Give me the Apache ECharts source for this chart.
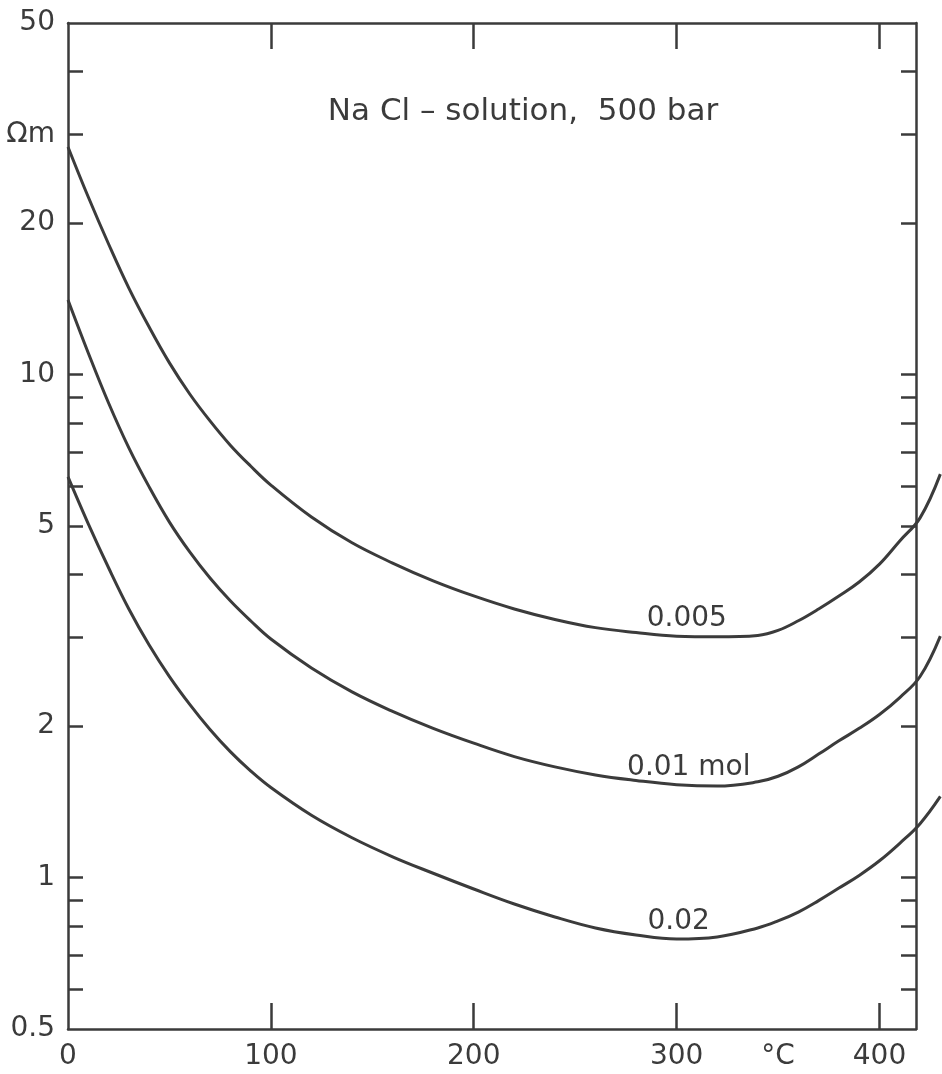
<!DOCTYPE html>
<html>
<head>
<meta charset="utf-8">
<title>NaCl solution resistivity, 500 bar</title>
<script src="https://cdn.jsdelivr.net/npm/echarts@6/dist/echarts.min.js"></script>
<style>
  html, body { margin: 0; padding: 0; background: #ffffff; }
  #chart { width: 942px; height: 1074px; }
</style>
</head>
<body>
<div id="chart"></div>
<script>
// Temperature (°C) at which the resistivity curves are sampled
const temperatures = [0, 10, 20, 30, 40, 50, 60, 70, 80, 90, 100,
  120, 140, 160, 180, 200, 220, 240, 260, 280, 300, 320, 340,
  350, 360, 370, 380, 390, 400, 410, 420, 430];

// Resistivity (Ωm) of NaCl solutions at 500 bar, one array per concentration
const rho0005 = [28.35, 22.54, 18.18, 14.86, 12.43, 10.55, 9.15, 8.09, 7.24, 6.58, 6.03,
  5.21, 4.63, 4.22, 3.89, 3.63, 3.42, 3.26, 3.14, 3.07, 3.02, 3.01, 3.03,
  3.10, 3.24, 3.42, 3.63, 3.87, 4.20, 4.67, 5.19, 6.34];
const rho001 = [14.07, 11.04, 8.78, 7.15, 5.98, 5.09, 4.44, 3.94, 3.55, 3.24, 2.98,
  2.61, 2.34, 2.14, 1.98, 1.85, 1.74, 1.66, 1.60, 1.56, 1.53, 1.52, 1.55,
  1.59, 1.66, 1.76, 1.87, 1.98, 2.11, 2.28, 2.51, 3.02];
const rho002 = [6.26, 5.05, 4.13, 3.42, 2.90, 2.51, 2.21, 1.97, 1.78, 1.63, 1.51,
  1.33, 1.20, 1.10, 1.02, 0.949, 0.886, 0.835, 0.794, 0.769, 0.755, 0.762, 0.794,
  0.820, 0.854, 0.900, 0.953, 1.01, 1.08, 1.17, 1.28, 1.45];

const curveNames = ['0.005', '0.01 mol', '0.02'];
const curveLabelTemps = [305, 306, 301];

// Axis range, tick and label values
const xMin = 0;
const xMax = 418;
const yMin = 0.5;
const yMax = 50;
const xTickValues = [100, 200, 300, 400];
const xLabelValues = [0, 100, 200, 300, 350, 400];
const xUnitValue = 350;
const yTickValues = [0.6, 0.7, 0.8, 0.9, 1, 2, 3, 4, 5, 6, 7, 8, 9, 10, 20, 30, 40];
const yLabelValues = [0.5, 1, 2, 5, 10, 20, 30, 50];
const yUnitValue = 30;

const title = 'Na Cl – solution,  500 bar';

const INK = '#3b3b3b';
const FONT = '"DejaVu Sans", "Liberation Sans", sans-serif';

// Frame box and the wider drawing area that lets the curves run past the right frame edge
const CHART_W = 942;
const FRAME = { left: 68, right: 26, top: 23, bottom: 45 };
const frameWidth = CHART_W - FRAME.left - FRAME.right;
const plotWidth = CHART_W - FRAME.left;
const xMaxWide = xMax * plotWidth / frameWidth;

function interp(xs, ys, x) {
  for (let i = 1; i < xs.length; i++) {
    if (x <= xs[i]) {
      const t = (x - xs[i - 1]) / (xs[i] - xs[i - 1]);
      return ys[i - 1] + t * (ys[i] - ys[i - 1]);
    }
  }
  return ys[ys.length - 1];
}

const chart = echarts.init(document.getElementById('chart'), null, { renderer: 'canvas' });

const axisLine = { show: true, onZero: false, lineStyle: { color: INK, width: 2.5 } };
const tickStyle = { color: INK, width: 2.5 };

function makeSeries(name, values, labelT) {
  return {
    name: name,
    type: 'line',
    xAxisIndex: 2,
    yAxisIndex: 2,
    data: temperatures.map((t, i) => [t, values[i]]),
    showSymbol: false,
    smooth: 0.4,
    clip: false,
    lineStyle: { color: INK, width: 3 },
    emphasis: { disabled: true },
    markPoint: {
      symbol: 'circle',
      symbolSize: 1,
      itemStyle: { color: 'rgba(0,0,0,0)' },
      label: {
        show: true,
        position: 'top',
        distance: 3,
        formatter: name,
        color: INK,
        fontFamily: FONT,
        fontSize: 28
      },
      data: [{ coord: [labelT, interp(temperatures, values, labelT)] }]
    }
  };
}

const hiddenAxis = {
  axisLine: { show: false }, axisTick: { show: false },
  axisLabel: { show: false }, splitLine: { show: false }
};

chart.setOption({
  animation: false,
  backgroundColor: '#ffffff',
  grid: [
    { left: FRAME.left, right: FRAME.right, top: FRAME.top, bottom: FRAME.bottom, containLabel: false },
    { left: FRAME.left, right: 0, top: FRAME.top, bottom: FRAME.bottom, containLabel: false }
  ],
  xAxis: [
    {
      gridIndex: 0, type: 'value', position: 'bottom', min: xMin, max: xMax,
      axisLine: axisLine,
      axisTick: { show: true, inside: true, length: 26, customValues: xTickValues, lineStyle: tickStyle },
      axisLabel: {
        show: true, customValues: xLabelValues, margin: 14,
        color: INK, fontFamily: FONT, fontSize: 28,
        formatter: v => (v === xUnitValue ? '°C' : String(v))
      },
      splitLine: { show: false }
    },
    {
      gridIndex: 0, type: 'value', position: 'top', min: xMin, max: xMax,
      axisLine: axisLine,
      axisTick: { show: true, inside: true, length: 26, customValues: xTickValues, lineStyle: tickStyle },
      axisLabel: { show: false },
      splitLine: { show: false }
    },
    Object.assign({ gridIndex: 1, type: 'value', min: xMin, max: xMaxWide }, hiddenAxis)
  ],
  yAxis: [
    {
      gridIndex: 0, type: 'log', logBase: 10, position: 'left', min: yMin, max: yMax,
      axisLine: axisLine,
      axisTick: { show: true, inside: true, length: 15, customValues: yTickValues, lineStyle: tickStyle },
      axisLabel: {
        show: true, customValues: yLabelValues, margin: 13,
        color: INK, fontFamily: FONT, fontSize: 28,
        formatter: v => (Math.abs(v - yUnitValue) < 1e-6 ? 'Ωm' : String(+v.toPrecision(3)))
      },
      splitLine: { show: false }
    },
    {
      gridIndex: 0, type: 'log', logBase: 10, position: 'right', min: yMin, max: yMax,
      axisLine: axisLine,
      axisTick: { show: true, inside: true, length: 15, customValues: yTickValues, lineStyle: tickStyle },
      axisLabel: { show: false },
      splitLine: { show: false }
    },
    Object.assign({ gridIndex: 1, type: 'log', logBase: 10, min: yMin, max: yMax }, hiddenAxis)
  ],
  graphic: [
    {
      type: 'text',
      x: 523,
      y: 112,
      style: {
        text: title,
        fill: INK,
        font: '31px ' + FONT,
        textAlign: 'center',
        textVerticalAlign: 'middle'
      }
    }
  ],
  series: [
    makeSeries(curveNames[0], rho0005, curveLabelTemps[0]),
    makeSeries(curveNames[1], rho001, curveLabelTemps[1]),
    makeSeries(curveNames[2], rho002, curveLabelTemps[2])
  ]
});
</script>
</body>
</html>
